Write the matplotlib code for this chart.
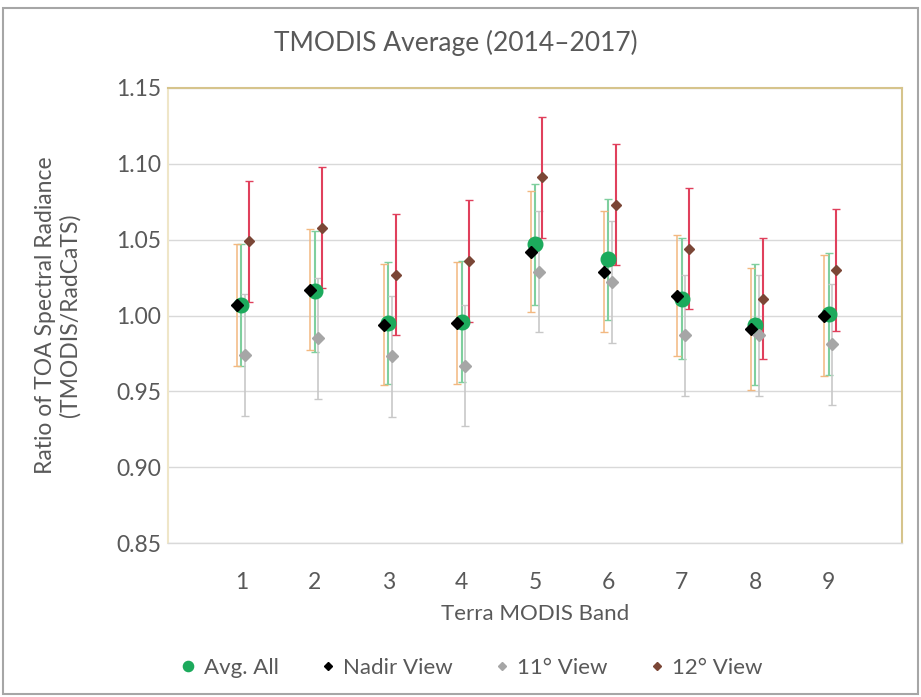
import matplotlib
matplotlib.use("Agg")
import matplotlib.pyplot as plt
from matplotlib.patches import Rectangle
import numpy as np

plt.rcParams['font.family'] = ['Lato', 'DejaVu Sans']

bands = [1, 2, 3, 4, 5, 6, 7, 8, 9]
avg_all = [1.007, 1.016, 0.995, 0.996, 1.047, 1.037, 1.011, 0.994, 1.001]
nadir = [1.007, 1.017, 0.994, 0.995, 1.042, 1.029, 1.013, 0.991, 1.000]
view11 = [0.974, 0.985, 0.973, 0.967, 1.029, 1.022, 0.987, 0.987, 0.981]
view12 = [1.049, 1.058, 1.027, 1.036, 1.091, 1.073, 1.044, 1.011, 1.030]
err = 0.04
yticks = [0.85, 0.90, 0.95, 1.00, 1.05, 1.10, 1.15]

txt = '#595959'
fig = plt.figure(figsize=(9.21, 6.97), dpi=100)
ax = fig.add_axes([168/921, 1-543/697, (902-168)/921, (543-88)/697])

x = np.array(bands, dtype=float)
series = [
    (avg_all, 0.0, 'Avg. All', 'o', 10.5, '#1CAA5C', '#7FCF9E', 1.5),
    (nadir, -0.06, 'Nadir View', 'D', 6.5, '#000000', '#F2B880', 1.1),
    (view11, 0.05, '11° View', 'D', 6.5, '#A6A6A6', '#C8C8C8', 1.2),
    (view12, 0.10, '12° View', 'D', 5.5, '#7B4636', '#E0405C', 1.5),
]
handles = []
for vals, off, lab, mk, ms, col, ecol, elw in series:
    ax.errorbar(x + off, vals, yerr=err, fmt='none', ecolor=ecol,
                elinewidth=elw, capsize=3, capthick=1, zorder=2)
for vals, off, lab, mk, ms, col, ecol, elw in series:
    h, = ax.plot(x + off, vals, linestyle='none', marker=mk, ms=ms,
                 color=col, mec=col, label=lab, zorder=3)
    handles.append(h)

ax.set_xlim(0, 10)
ax.set_ylim(0.85, 1.15)
ax.set_xticks(bands)
ax.set_xticklabels([str(b) for b in bands])
ax.set_yticks(yticks)
ax.set_yticklabels([f'{v:.2f}' for v in yticks])
ax.tick_params(axis='both', length=0, labelsize=16.5, colors=txt)
ax.tick_params(axis='x', pad=21)
ax.tick_params(axis='y', pad=5)
ax.grid(axis='y', color='#D9D9D9', linewidth=1)
ax.set_axisbelow(True)
for s in ['top', 'right', 'left']:
    ax.spines[s].set_color('#D6C48C')
    ax.spines[s].set_linewidth(1.5)
ax.spines['left'].set_color('#EFE6C8')
ax.spines['bottom'].set_color('#D9D9D9')
ax.spines['bottom'].set_linewidth(1)

ax.set_xlabel('Terra MODIS Band', fontsize=16, color=txt, labelpad=8)
fig.text(58/921, 1-315/697, 'Ratio of TOA Spectral Radiance\n(TMODIS/RadCaTS)',
         rotation=90, ha='center', va='center', fontsize=16.5, color=txt,
         linespacing=1.15)
fig.text(456/921, 1-43/697, 'TMODIS Average (2014\u20132017)', ha='center',
         va='center', fontsize=19, color=txt)

fig.legend(handles=handles, loc='center', bbox_to_anchor=(470/921, 1-668/697),
           ncol=4, frameon=False, fontsize=16, labelcolor=txt,
           handletextpad=0.2, columnspacing=1.7, markerscale=0.7,
           handlelength=1.0)

fig.patches.append(Rectangle((3/921, 3/697), 915/921, 686/697,
                             transform=fig.transFigure, fill=False,
                             edgecolor='#A6A6A6', linewidth=1.5))
fig.savefig('out.png', dpi=100)
